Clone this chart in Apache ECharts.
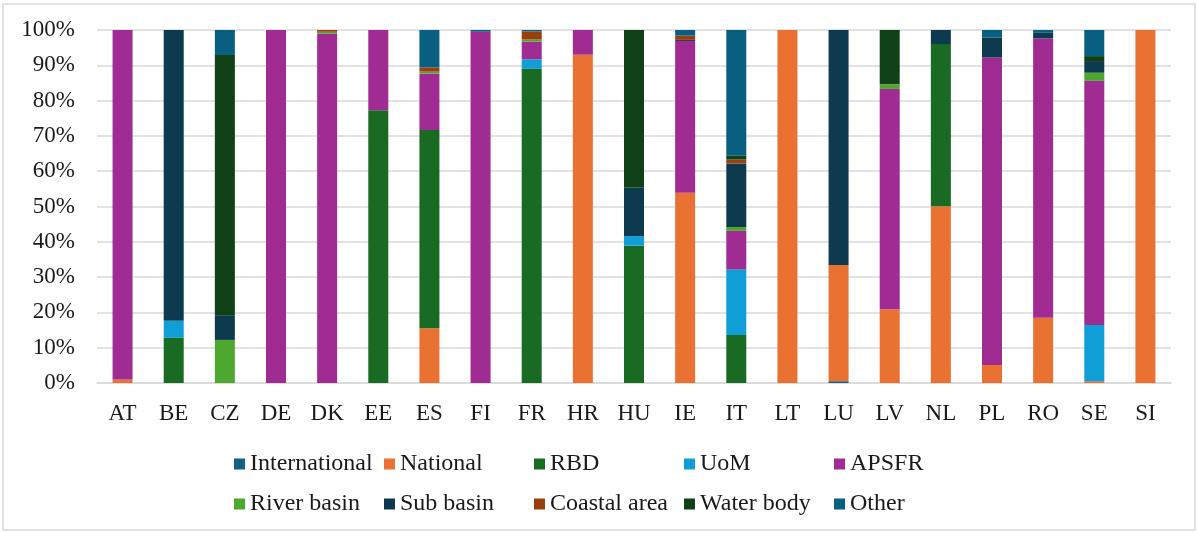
<!DOCTYPE html>
<html>
<head>
<meta charset="utf-8">
<script src="https://cdn.jsdelivr.net/npm/echarts@6/dist/echarts.min.js"></script>
<style>
html,body{margin:0;padding:0;background:#fff;}
#chart{width:1198px;height:533px;}
</style>
</head>
<body>
<div id="chart"></div>
<script>
var categories = ['AT','BE','CZ','DE','DK','EE','ES','FI','FR','HR','HU','IE','IT','LT','LU','LV','NL','PL','RO','SE','SI'];
var seriesNames = ['International','National','RBD','UoM','APSFR','River basin','Sub basin','Coastal area','Water body','Other'];
var seriesColors = ['#156082','#E97132','#196B24','#0F9ED5','#A02B93','#4EA72E','#0E3A50','#99400F','#0F4016','#095F80'];
var yTicks = [0,10,20,30,40,50,60,70,80,90,100];

var international = [0,0,0,0,0,0,0,0,0,0,0,0,0,0,0.5,0,0,0,0,0,0];
var national      = [1,0,0,0,0,0,15.5,0,0,93,0,53.9,0,100,32.9,20.9,50.1,5.1,18.5,0.5,100];
var rbd           = [0,12.8,0,0,0,77.3,56.2,0,89,0,38.9,0,13.6,0,0,0,45.9,0,0,0,0];
var uom           = [0,4.8,0,0,0,0,0,0,2.7,0,2.7,0,18.6,0,0,0,0,0,0,15.9,0];
var apsfr         = [99,0,0,100,99,22.7,16,99.5,5,7,0,43,10.9,0,0,62.4,0,87.1,79.1,69.2,0];
var riverBasin    = [0,0,12.2,0,0.5,0,0.5,0,0.6,0,0,0,1.1,0,0,1.3,0,0,0,2.3,0];
var subBasin      = [0,82.4,7,0,0,0,0,0,0,0,13.8,0.3,18,0,66.6,0,4,5.7,1.6,3.3,0];
var coastalArea   = [0,0,0,0,0.5,0,1.2,0,2.3,0,0,1.2,1.1,0,0,0,0,0,0,0,0];
var waterBody     = [0,0,73.7,0,0,0,0,0,0,0,44.6,0,1.1,0,0,15.4,0,0,0,1.4,0];
var other         = [0,0,7.1,0,0,0,10.6,0.5,0.4,0,0,1.6,35.6,0,0,0,0,2.1,0.8,7.4,0];

var seriesData = [international, national, rbd, uom, apsfr, riverBasin, subBasin, coastalArea, waterBody, other];

var FONT = "'Liberation Serif','Times New Roman',serif";
var chart = echarts.init(document.getElementById('chart'), null, {renderer:'canvas'});

var series = seriesNames.map(function(name, i){
  return {
    name: name,
    type: 'bar',
    stack: 'total',
    barWidth: 20,
    data: seriesData[i],
    itemStyle: {color: seriesColors[i]},
    emphasis: {disabled: true}
  };
});

function legendRow(names, top){
  return {
    data: names,
    left: 234,
    top: top,
    padding: 0,
    orient: 'horizontal',
    itemWidth: 11,
    itemHeight: 11,
    itemGap: 0,
    icon: 'rect',
    selectedMode: false,
    textStyle: {fontFamily: FONT, fontSize: 24, color: '#1a1a1a', width: 134, lineHeight: 26}
  };
}

chart.setOption({
  animation: false,
  color: seriesColors,
  graphic: [{
    type: 'rect',
    shape: {x: 3, y: 4, width: 1192, height: 526},
    style: {fill: 'none', stroke: '#d9d9d9', lineWidth: 1.5},
    silent: true
  }],
  legend: [
    legendRow(seriesNames.slice(0,5), 451),
    legendRow(seriesNames.slice(5,10), 491)
  ],
  grid: {left: 97, right: 27, top: 30, bottom: 150, containLabel: false},
  xAxis: {
    type: 'category',
    data: categories,
    axisTick: {show: false},
    axisLine: {lineStyle: {color: '#d9d9d9', width: 1.5}},
    axisLabel: {fontFamily: FONT, fontSize: 23, color: '#1a1a1a', margin: 19}
  },
  yAxis: {
    type: 'value',
    min: yTicks[0],
    max: yTicks[yTicks.length-1],
    interval: 10,
    axisLine: {show: false},
    axisTick: {show: false},
    splitLine: {lineStyle: {color: '#d9d9d9', width: 1.5}},
    axisLabel: {fontFamily: FONT, fontSize: 23, color: '#1a1a1a', margin: 22, formatter: '{value}%'}
  },
  series: series
});
</script>
</body>
</html>
